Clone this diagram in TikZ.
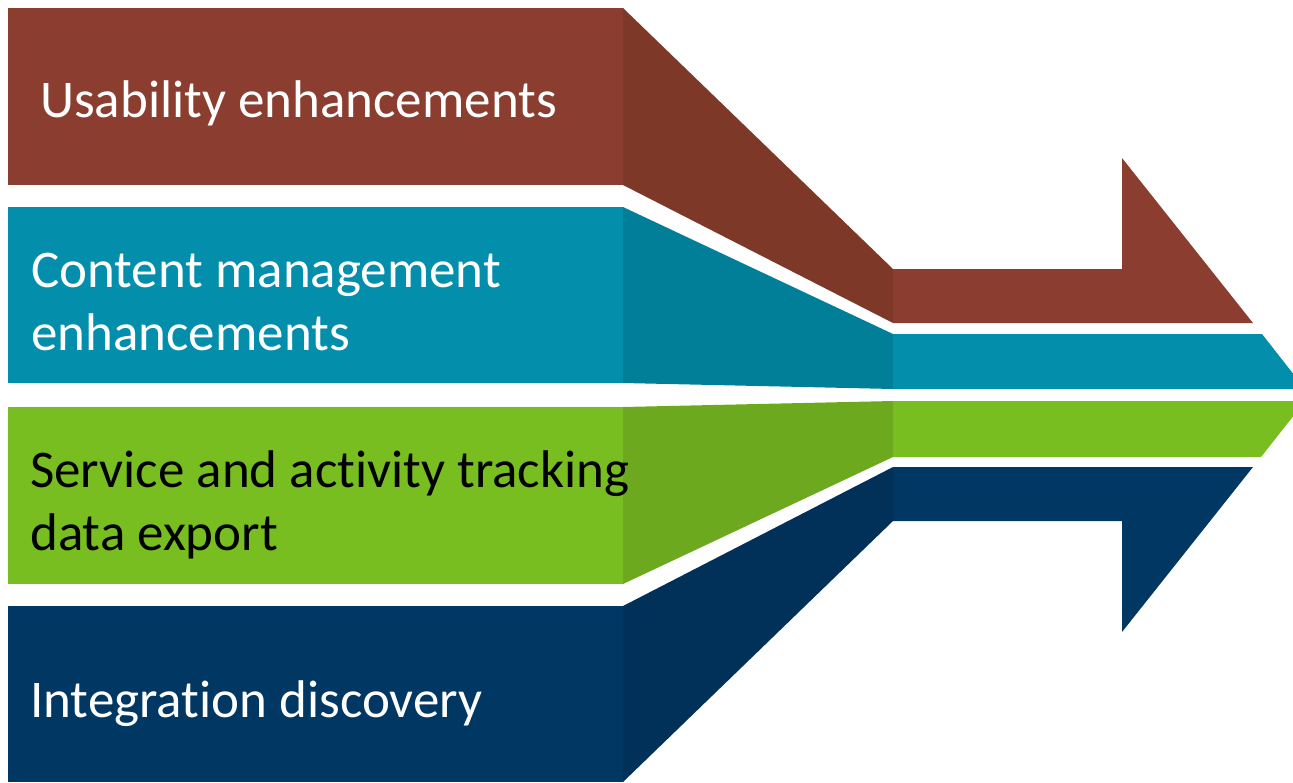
\documentclass[tikz,border=0pt]{standalone}
\usepackage{fontspec}
\setmainfont{Carlito}[Ligatures={NoCommon,NoRare,NoDiscretionary,NoContextual}]
\definecolor{brownA}{HTML}{8B3E2F}
\definecolor{brownB}{HTML}{7E3828}
\definecolor{tealA}{HTML}{038EAC}
\definecolor{tealB}{HTML}{017F98}
\definecolor{greenA}{HTML}{78BE20}
\definecolor{greenB}{HTML}{6DA91F}
\definecolor{navyA}{HTML}{013763}
\definecolor{navyB}{HTML}{013158}
\tikzset{
  lbl/.style={anchor=base west, inner sep=0pt, font=\fontsize{53}{63}\selectfont, align=left},
}
\begin{document}
\begin{tikzpicture}[x=1pt,y=-1pt]
\useasboundingbox (0,0) rectangle (1293,782);
% left boxes
\fill[brownA] (8,8) rectangle (623,185);
\fill[tealA] (8,207) rectangle (623,383);
\fill[greenA] (8,407) rectangle (623,584);
\fill[navyA] (8,606) rectangle (623,782);
% funnel parts
\fill[brownB] (623,8) -- (893,269) -- (893,323) -- (623,185) -- cycle;
\fill[tealB] (623,207) -- (893,334) -- (893,389) -- (623,383) -- cycle;
\fill[greenB] (623,407) -- (893,401) -- (893,457) -- (623,584) -- cycle;
\fill[navyB] (623,606) -- (893,467) -- (893,521) -- (623,782) -- cycle;
% arrow parts
\fill[brownA] (893,269) -- (1122,269) -- (1122,158) -- (1253,323) -- (893,323) -- cycle;
\fill[tealA] (893,334) -- (1262,334) -- (1293,373.6) -- (1293,389) -- (893,389) -- cycle;
\fill[greenA] (893,401) -- (1293,401) -- (1293,416.4) -- (1261,457) -- (893,457) -- cycle;
\fill[navyA] (893,467) -- (1253,467) -- (1122,632) -- (1122,521) -- (893,521) -- cycle;
% labels
\node[lbl, text=white] (usab) at (40,117) {Usability enhancements};
\node[lbl, text=white] (cont) at (31,350) {Content management\\enhancements};
\node[lbl, text=black] (serv) at (30,550) {Service and activity tracking\\data export};
\node[lbl, text=white] (integ) at (30,717) {Integration discovery};
\end{tikzpicture}
\end{document}
